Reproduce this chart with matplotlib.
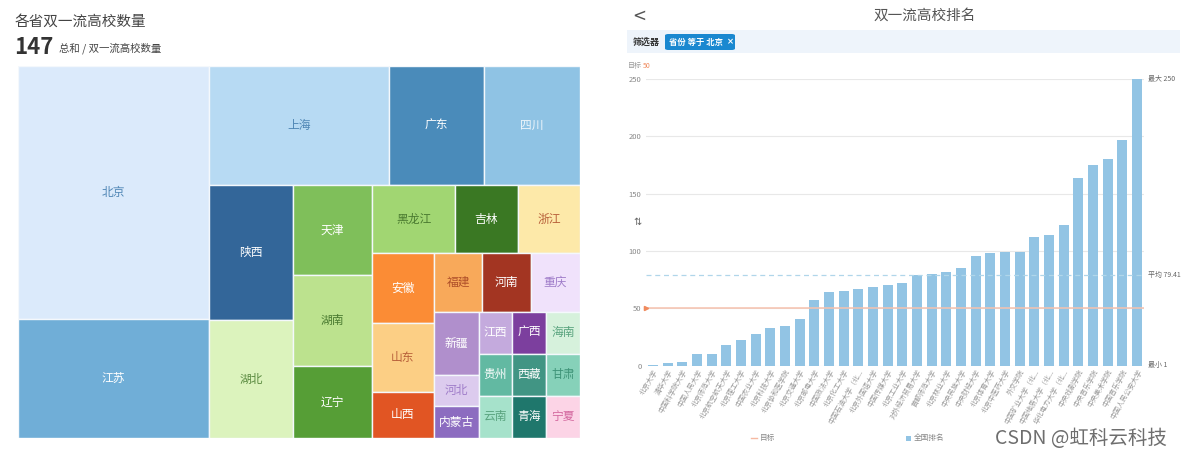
import numpy as np
import matplotlib
matplotlib.use("Agg")
import matplotlib.pyplot as plt
from matplotlib.patches import Rectangle, FancyBboxPatch

plt.rcParams['font.family'] = ['Noto Sans CJK SC', 'DejaVu Sans']

# treemap data: provinces and number of universities
provinces = ['北京', '江苏', '上海', '广东', '四川', '陕西', '湖北', '天津', '湖南', '辽宁',
             '黑龙江', '吉林', '浙江', '安徽', '山东', '山西', '福建', '河南', '重庆', '新疆',
             '河北', '内蒙古', '江西', '广西', '海南', '贵州', '云南', '西藏', '甘肃', '青海', '宁夏']
counts = [34, 16, 15, 8, 8, 8, 7, 5, 5, 4,
          4, 3, 3, 3, 3, 2, 2, 2, 2, 2,
          1, 1, 1, 1, 1, 1, 1, 1, 1, 1, 1]
cell_colors = ['#dbeafb', '#70aed7', '#b7daf3', '#4a8bba', '#8fc3e4', '#336699', '#dcf3bd',
               '#7fbf5a', '#bce28e', '#569e36', '#a1d672', '#3a7823', '#fde9a9', '#fb8c35',
               '#fccf85', '#e15523', '#f8a95a', '#a33522', '#f0e2fb', '#b08fcc', '#dccbee',
               '#8c6cc0', '#c4aadd', '#7c3f9e', '#d6f1dc', '#62b9a2', '#a6e2cb', '#419584',
               '#86d1b9', '#1f776c', '#fcd4e6']
label_colors = ['#4f86b5', 'white', '#4f86b5', 'white', '#eef6fb', 'white', '#5a8a40',
                'white', '#4a7a30', 'white', '#4a7a30', 'white', '#b8603a', 'white',
                '#b8603a', 'white', '#b0502a', 'white', '#9f7cc9', 'white', '#9f7cc9',
                'white', 'white', 'white', '#5aa47f', 'white', '#5aa47f', 'white',
                '#3f9478', 'white', '#d46aa0']

# bar data: Beijing universities and national rank
schools = ['北京大学', '清华大学', '中国科学院大学', '中国人民大学', '北京师范大学', '北京航空航天大学',
           '北京理工大学', '中国农业大学', '北京科技大学', '北京协和医学院', '北京交通大学', '北京邮电大学',
           '中国政法大学', '北京化工大学', '中国石油大学（北...', '北京外国语大学', '中国传媒大学', '北京工业大学',
           '对外经济贸易大学', '首都师范大学', '北京林业大学', '中央民族大学', '中央财经大学', '北京体育大学',
           '北京中医药大学', '外交学院', '中国矿业大学（北...', '中国地质大学（北...', '华北电力大学（北...',
           '中央戏剧学院', '中央音乐学院', '中央美术学院', '中国音乐学院', '中国人民公安大学']
ranks = [1, 2, 3, 10, 10, 18, 22, 28, 33, 35, 41, 57,
         64, 65, 67, 69, 70, 72, 79, 80, 82, 85, 96, 98,
         99, 99, 112, 114, 123, 164, 175, 180, 197, 250]
target = 50

W, H = 1182, 457
fig = plt.figure(figsize=(W / 100, H / 100), dpi=100)


def fx(px):
    return px / W


def fy(py):
    return 1 - py / H


def worst(row, side):
    s = sum(row)
    return max(max(side * side * r / (s * s), s * s / (side * side * r)) for r in row)


def squarify(areas, x, y, w, h):
    rects = []
    areas = list(areas)
    while areas:
        side = min(w, h)
        row = [areas[0]]
        i = 1
        while i < len(areas) and worst(row + [areas[i]], side) <= worst(row, side):
            row.append(areas[i])
            i += 1
        areas = areas[i:]
        s = sum(row)
        if w >= h:
            cw = s / h
            yy = y
            for r in row:
                rects.append((x, yy, cw, r / cw))
                yy += r / cw
            x += cw
            w -= cw
        else:
            rh = s / w
            xx = x
            for r in row:
                rects.append((xx, y, r / rh, rh))
                xx += r / rh
            y += rh
            h -= rh
    return rects


# ---- left: treemap ----
tw, th = 562, 372
ax = fig.add_axes([fx(18), fy(438), fx(tw), th / H])
ax.set_xlim(0, tw)
ax.set_ylim(th, 0)
ax.axis('off')
total = sum(counts)
rects = squarify([c * tw * th / total for c in counts], 0, 0, tw, th)
for (x, y, w, h), name, fc, tc in zip(rects, provinces, cell_colors, label_colors):
    ax.add_patch(Rectangle((x, y), w, h, facecolor=fc, edgecolor='#f4f8fc', linewidth=1))
    ax.text(x + w / 2, y + h / 2, name, ha='center', va='center', fontsize=8.5, color=tc)

fig.text(fx(15), fy(22), '各省双一流高校数量', fontsize=10.5, color='#444444', va='center')
fig.text(fx(14), fy(47), str(total), fontsize=16, fontweight='bold', color='#333333', va='center')
fig.text(fx(59), fy(48), '总和 / 双一流高校数量', fontsize=7.5, color='#444444', va='center')

# ---- right: bar chart ----
bx = fig.add_axes([fx(645.6), fy(365.7), fx(1144.3 - 645.6), (365.7 - 79) / H])
xs = np.arange(len(ranks))
bx.bar(xs, ranks, width=0.68, color='#92c4e4', zorder=2)
bx.set_xlim(-0.5, len(ranks) - 0.5)
bx.set_ylim(0, 250)
bx.set_yticks([0, 50, 100, 150, 200, 250])
bx.yaxis.grid(True, color='#e8e8e8', linewidth=0.8, zorder=0)
bx.set_axisbelow(True)
for s in bx.spines.values():
    s.set_visible(False)
bx.tick_params(axis='y', length=0, labelsize=5.5, labelcolor='#888888', pad=3)
bx.tick_params(axis='x', length=0, pad=2)
bx.set_xticks(xs)
bx.set_xticklabels(schools, rotation=60, ha='right', va='top', rotation_mode='anchor',
                   fontsize=5, color='#999999')

mean = np.mean(ranks)
bx.axhline(mean, color='#b0d6ea', linestyle=(0, (4, 3)), linewidth=0.9, zorder=3)
bx.axhline(target, color='#f6c2ae', linewidth=1.1, zorder=3)
bx.plot([-0.5], [target], marker='>', color='#f08a5d', markersize=3, clip_on=False, zorder=4)
for val, lab in [(max(ranks), '最大 %d' % max(ranks)), (mean, '平均 %.2f' % mean),
                 (min(ranks), '最小 %d' % min(ranks))]:
    bx.annotate(lab, xy=(1, val), xycoords=('axes fraction', 'data'), xytext=(3, 0),
                textcoords='offset points', fontsize=5, color='#666666', va='center')

fig.text(fx(628), fy(66), '目标', fontsize=5, color='#999999', va='center')
fig.text(fx(643), fy(66), str(target), fontsize=5, color='#f08a5d', va='center')
fig.text(fx(633), fy(222), '⇅', fontsize=7, color='#666666', va='center',
         family=['DejaVu Sans'])

# header and filter bar
fig.text(fx(639), fy(16), '<', fontsize=12, color='#555555', va='center', ha='center',
         family=['DejaVu Sans'])
fig.text(fx(925), fy(16), '双一流高校排名', fontsize=10.5, color='#555555', va='center', ha='center')
fig.patches.append(Rectangle((fx(627), fy(53)), fx(1180 - 627), 23 / H, transform=fig.transFigure,
                             facecolor='#eef4fb', edgecolor='none'))
fig.text(fx(633), fy(42), '筛选器', fontsize=6.5, fontweight='bold', color='#333333', va='center')
fig.patches.append(FancyBboxPatch((fx(665), fy(50)), fx(70), 16 / H, transform=fig.transFigure,
                                  boxstyle='round,pad=0,rounding_size=0.003',
                                  facecolor='#1a88d0', edgecolor='none'))
fig.text(fx(669), fy(42), '省份 等于 北京', fontsize=6, fontweight='bold', color='white', va='center')
fig.text(fx(727), fy(42), '×', fontsize=6, fontweight='bold', color='white', va='center',
         family=['DejaVu Sans'])

# legend
fig.lines.append(plt.Line2D([fx(751), fx(757)], [fy(438), fy(438)], transform=fig.transFigure,
                            color='#f6b9a2', linewidth=1))
fig.text(fx(760), fy(438), '目标', fontsize=5.5, color='#888888', va='center')
fig.patches.append(Rectangle((fx(906), fy(440.5)), fx(5), 5 / H, transform=fig.transFigure,
                             facecolor='#92c4e4', edgecolor='none'))
fig.text(fx(914), fy(438), '全国排名', fontsize=5.5, color='#888888', va='center')

# watermark
fig.text(fx(995), fy(439), 'CSDN @虹科云科技', fontsize=14, color='#6e6e6e', va='center')

fig.savefig('out.png', dpi=100)
